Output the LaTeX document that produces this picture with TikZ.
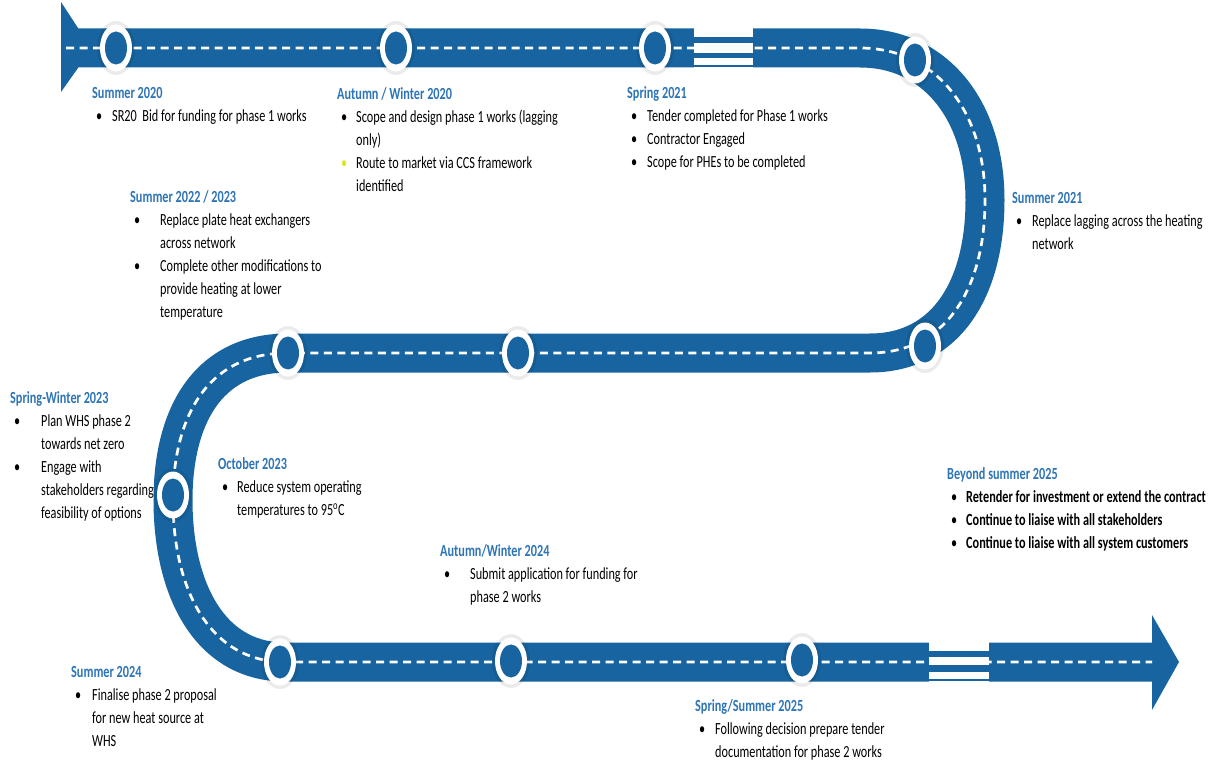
\documentclass[tikz,border=0pt]{standalone}
\usepackage{fontspec}
\setmainfont{Carlito}[FakeStretch=0.72]
\usetikzlibrary{shapes.geometric}

\definecolor{roadblue}{RGB}{23,100,160}
\definecolor{titleblue}{RGB}{46,117,182}
\definecolor{bulyellow}{RGB}{222,230,40}

\newcommand\evtitle[1]{\strut\textcolor{titleblue}{\textbf{#1}}}
\newcommand\bul[2][black]{\hspace*{4pt}\makebox[#2][l]{\textcolor{#1}{\textbullet}}}
\newcommand\cnt[1]{\hspace*{4pt}\hspace*{#1}}

\tikzset{
  road/.style={draw=roadblue, line width=39pt},
  lane/.style={draw=white, line width=2.7pt, dash pattern=on 8pt off 5.5pt},
  halo/.style={ellipse, fill=black, opacity=0.08, minimum width=38pt, minimum height=54pt, inner sep=0pt},
  ring/.style={ellipse, fill=white, minimum width=32pt, minimum height=47pt, inner sep=0pt},
  hub/.style={ellipse, fill=roadblue, minimum width=22pt, minimum height=33pt, inner sep=0pt},
  evt/.style={anchor=north west, inner sep=0pt, align=left, font=\fontsize{17}{23}\selectfont},
}

\begin{document}
\begin{tikzpicture}[x=1pt, y=-1pt]
  \fill[white] (0,0) rectangle (1211,762);
  \useasboundingbox (0,0) rectangle (1211,762);

  % the road
  \fill[roadblue] (61,2) -- (78,28) -- (78,68) -- (61,92) -- cycle;
  \draw[road] (77,48) -- (860,48) .. controls (935,48) and (985,110) .. (985,200)
    .. controls (985,290) and (945,353) .. (870,353) -- (288,353)
    .. controls (205,353) and (173,420) .. (173,500)
    .. controls (173,590) and (210,662) .. (285,662) -- (1153,662);
  \fill[roadblue] (1152,615) -- (1179,662) -- (1152,710) -- cycle;
  \draw[lane] (66,48) -- (860,48) .. controls (935,48) and (985,110) .. (985,200)
    .. controls (985,290) and (945,353) .. (870,353) -- (288,353)
    .. controls (205,353) and (173,420) .. (173,500)
    .. controls (173,590) and (210,662) .. (285,662) -- (1152,662);

  % bridges
  \fill[white] (694,27) rectangle (753,70);
  \fill[roadblue] (694,37) rectangle (753,67);
  \fill[white] (694,43) rectangle (753,53);
  \fill[white] (694,58) rectangle (753,65);
  \fill[white] (929,641) rectangle (989,684);
  \fill[roadblue] (929,651) rectangle (989,681);
  \fill[white] (929,657) rectangle (989,665);
  \fill[white] (929,672) rectangle (989,679);

  % milestones
  \foreach \p [count=\i] in {(116,48),(396,48),(655,48),(915,60),(925,346),(518,353),
      (288,353),(173,495),(280,662),(511,661),(802,660)} {
    \node[halo] (s\i) at \p {};
    \node[ring] (m\i) at \p {};
    \node[hub] (h\i) at (m\i) {};
  }

  % texts
  \node[evt] (t1) at (92,82) {\evtitle{Summer 2020}\\
    \bul{16pt}SR20\ \ Bid for funding for phase 1 works};
  \node[evt] (t2) at (337,83) {\evtitle{Autumn / Winter 2020}\\
    \bul{15pt}Scope and design phase 1 works (lagging\\
    \cnt{15pt}only)\\
    \bul[bulyellow]{15pt}Route to market via CCS framework\\
    \cnt{15pt}identified};
  \node[evt] (t3) at (627,82) {\evtitle{Spring 2021}\\
    \bul{16pt}Tender completed for Phase 1 works\\
    \bul{16pt}Contractor Engaged\\
    \bul{16pt}Scope for PHEs to be completed};
  \node[evt] (t4) at (1012,187) {\evtitle{Summer 2021}\\
    \bul{16pt}Replace lagging across the heating\\
    \cnt{16pt}network};
  \node[evt] (t5) at (130,186) {\evtitle{Summer 2022 / 2023}\\
    \bul{26pt}Replace plate heat exchangers\\
    \cnt{26pt}across network\\
    \bul{26pt}Complete other modifications to\\
    \cnt{26pt}provide heating at lower\\
    \cnt{26pt}temperature};
  \node[evt] (t6) at (10,387) {\evtitle{Spring-Winter 2023}\\
    \bul{27pt}Plan WHS phase 2\\
    \cnt{27pt}towards net zero\\
    \bul{27pt}Engage with\\
    \cnt{27pt}stakeholders regarding\\
    \cnt{27pt}feasibility of options};
  \node[evt] (t7) at (218,453) {\evtitle{October 2023}\\
    \bul{15pt}Reduce system operating\\
    \cnt{15pt}temperatures to 95\textsuperscript{o}C};
  \node[evt] (t8) at (440,540) {\evtitle{Autumn/Winter 2024}\\
    \bul{26pt}Submit application for funding for\\
    \cnt{26pt}phase 2 works};
  \node[evt] (t9) at (947,463) {\evtitle{Beyond summer 2025}\\
    \bul{15pt}\textbf{Retender for investment or extend the contract}\\
    \bul{15pt}\textbf{Continue to liaise with all stakeholders}\\
    \bul{15pt}\textbf{Continue to liaise with all system customers}};
  \node[evt] (t10) at (71,661) {\evtitle{Summer 2024}\\
    \bul{17pt}Finalise phase 2 proposal\\
    \cnt{17pt}for new heat source at\\
    \cnt{17pt}WHS};
  \node[evt] (t11) at (695,695) {\evtitle{Spring/Summer 2025}\\
    \bul{16pt}Following decision prepare tender\\
    \cnt{16pt}documentation for phase 2 works};
\end{tikzpicture}
\end{document}
